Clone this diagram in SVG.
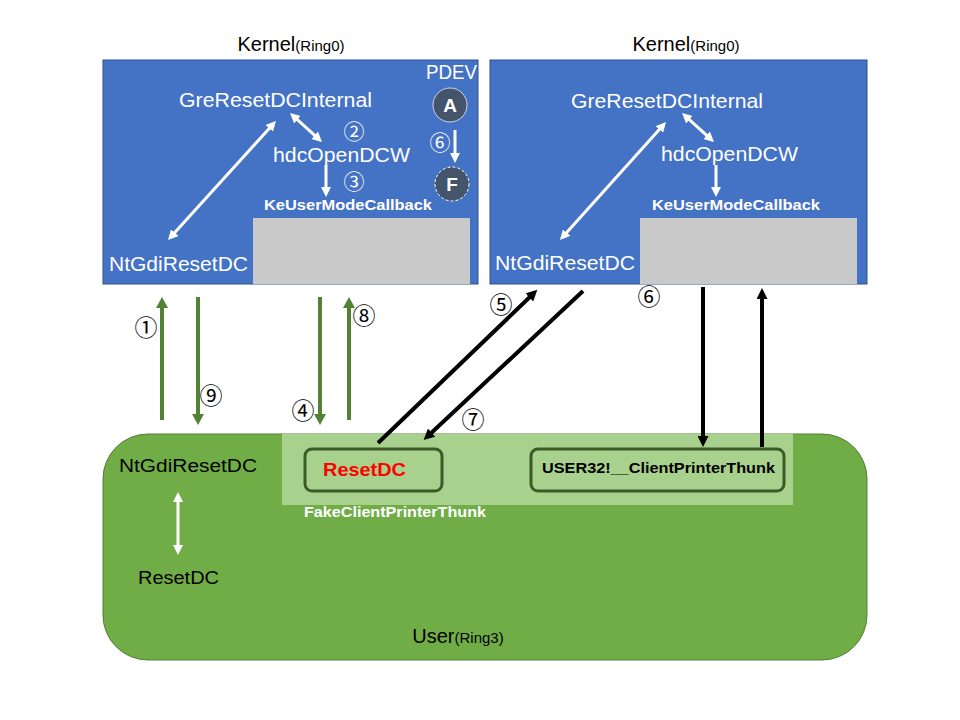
<svg xmlns="http://www.w3.org/2000/svg" width="960" height="720" viewBox="0 0 960 720">
<style>
text{font-family:"Liberation Sans","Noto Sans",sans-serif}
.wt{fill:#fff;font-size:20px}
.wb{fill:#fff;font-size:14px;font-weight:bold}
.bk{fill:#000;font-size:18px}
.num{font-family:"Noto Sans CJK JP","Noto Sans CJK SC",sans-serif;font-size:23px;fill:#000}
.numw{font-family:"Noto Sans CJK JP","Noto Sans CJK SC",sans-serif;font-size:21px;fill:#fff}
.kbox{fill:#4472C4;stroke:#2F528F;stroke-width:1}
.gray{fill:#C9C9C9}
.wl{stroke:#fff;stroke-width:3;fill:none}
.gl{stroke:#538135;stroke-width:4;fill:none}
.bl{stroke:#000;stroke-width:4;fill:none}
.inner{fill:#A9D18E;stroke:#3B5A26;stroke-width:3}
</style>
<defs>
<marker id="mw" viewBox="0 0 10 10" refX="5" refY="5" markerWidth="10" markerHeight="10" markerUnits="userSpaceOnUse" orient="auto-start-reverse"><path d="M0,0 L10,5 L0,10 z" fill="#fff"/></marker>
<marker id="mg" viewBox="0 0 11 12" refX="5" refY="6" markerWidth="11" markerHeight="12" markerUnits="userSpaceOnUse" orient="auto"><path d="M0,0 L11,6 L0,12 z" fill="#538135"/></marker>
<marker id="mb" viewBox="0 0 11 11" refX="5" refY="5.5" markerWidth="11" markerHeight="11" markerUnits="userSpaceOnUse" orient="auto"><path d="M0,0 L11,5.5 L0,11 z" fill="#000"/></marker>
</defs>
<rect width="960" height="720" fill="#fff"/>

<g id="user-ring3">
<rect x="103" y="434" width="764" height="226" rx="45" fill="#70AD47" stroke="#507E32" stroke-width="1"/>
<rect x="282" y="434" width="511" height="71" fill="#A9D18E"/>
<text x="119" y="472" class="bk" textLength="138" lengthAdjust="spacingAndGlyphs">NtGdiResetDC</text>
<text x="138" y="584" class="bk" textLength="81" lengthAdjust="spacingAndGlyphs">ResetDC</text>
<text x="304" y="517" class="wb" textLength="182" lengthAdjust="spacingAndGlyphs">FakeClientPrinterThunk</text>
<text x="458" y="643" text-anchor="middle" fill="#000"><tspan font-size="20">User</tspan><tspan font-size="15">(Ring3)</tspan></text>
</g>

<g id="fake-resetdc">
<rect x="305" y="449" width="137" height="42" rx="7" class="inner"/>
<text x="323" y="476" fill="#FF0000" font-size="19" font-weight="bold" textLength="83" lengthAdjust="spacingAndGlyphs">ResetDC</text>
</g>

<g id="user32-thunk">
<rect x="531" y="449" width="253" height="42" rx="7" class="inner"/>
<text x="542" y="473" fill="#000" font-size="15" font-weight="bold" textLength="233" lengthAdjust="spacingAndGlyphs">USER32!__ClientPrinterThunk</text>
</g>

<g id="kernel-left">
<text x="291" y="51" text-anchor="middle" fill="#000"><tspan font-size="20">Kernel</tspan><tspan font-size="15">(Ring0)</tspan></text>
<rect x="103" y="60" width="375" height="224" class="kbox"/>
<rect x="253" y="218" width="217" height="66" class="gray"/>
<text x="426" y="79" class="wt" font-size="17" textLength="51" lengthAdjust="spacingAndGlyphs">PDEV</text>
<text x="179" y="107" class="wt" textLength="193" lengthAdjust="spacingAndGlyphs">GreResetDCInternal</text>
<text x="273" y="162" class="wt" textLength="137" lengthAdjust="spacingAndGlyphs">hdcOpenDCW</text>
<text x="264" y="210" class="wb" textLength="168" lengthAdjust="spacingAndGlyphs">KeUserModeCallback</text>
<text x="109" y="271" class="wt" textLength="139" lengthAdjust="spacingAndGlyphs">NtGdiResetDC</text>
<text x="354" y="139" class="numw" text-anchor="middle">②</text>
<text x="354" y="189" class="numw" text-anchor="middle">③</text>
<text x="440" y="150" class="numw" text-anchor="middle">⑥</text>
</g>

<g id="circle-A">
<circle cx="450" cy="105" r="17" fill="#44546A" stroke="#D0D8E8" stroke-width="1"/>
<text x="450" y="112" fill="#fff" font-size="19" font-weight="bold" text-anchor="middle">A</text>
</g>
<g id="circle-F">
<circle cx="452" cy="184" r="17" fill="#44546A" stroke="#fff" stroke-width="1" stroke-dasharray="3,2"/>
<text x="452" y="191" fill="#fff" font-size="19" font-weight="bold" text-anchor="middle">F</text>
</g>

<g id="kernel-right">
<text x="686" y="51" text-anchor="middle" fill="#000"><tspan font-size="20">Kernel</tspan><tspan font-size="15">(Ring0)</tspan></text>
<rect x="490" y="60" width="377" height="224" class="kbox"/>
<rect x="640" y="218" width="217" height="66" class="gray"/>
<text x="571" y="108" class="wt" textLength="192" lengthAdjust="spacingAndGlyphs">GreResetDCInternal</text>
<text x="661" y="161" class="wt" textLength="137" lengthAdjust="spacingAndGlyphs">hdcOpenDCW</text>
<text x="652" y="210" class="wb" textLength="168" lengthAdjust="spacingAndGlyphs">KeUserModeCallback</text>
<text x="495" y="270" class="wt" textLength="140" lengthAdjust="spacingAndGlyphs">NtGdiResetDC</text>
</g>

<g id="connectors">
<line x1="171.4" y1="236.3" x2="272.6" y2="124.7" class="wl" marker-start="url(#mw)" marker-end="url(#mw)"/>
<line x1="293.7" y1="116.4" x2="318.3" y2="138.6" class="wl" marker-start="url(#mw)" marker-end="url(#mw)"/>
<line x1="326" y1="165" x2="326" y2="192" class="wl" marker-end="url(#mw)"/>
<line x1="455" y1="130" x2="455" y2="158" class="wl" marker-end="url(#mw)"/>
<line x1="563.3" y1="236.3" x2="662.7" y2="125.7" class="wl" marker-start="url(#mw)" marker-end="url(#mw)"/>
<line x1="685.7" y1="116.4" x2="710.3" y2="138.6" class="wl" marker-start="url(#mw)" marker-end="url(#mw)"/>
<line x1="716" y1="165" x2="716" y2="192" class="wl" marker-end="url(#mw)"/>
<line x1="178" y1="497" x2="178" y2="550" class="wl" marker-start="url(#mw)" marker-end="url(#mw)"/>

<line x1="162" y1="420" x2="162" y2="303" class="gl" marker-end="url(#mg)"/>
<line x1="198" y1="297" x2="198" y2="419" class="gl" marker-end="url(#mg)"/>
<line x1="320" y1="297" x2="320" y2="419" class="gl" marker-end="url(#mg)"/>
<line x1="349" y1="420" x2="349" y2="303" class="gl" marker-end="url(#mg)"/>

<line x1="378" y1="443" x2="533" y2="294" class="bl" marker-end="url(#mb)"/>
<line x1="583" y1="291" x2="428" y2="436" class="bl" marker-end="url(#mb)"/>
<line x1="703" y1="287" x2="703" y2="441" class="bl" marker-end="url(#mb)"/>
<line x1="762" y1="447" x2="762" y2="294" class="bl" marker-end="url(#mb)"/>

<text x="146" y="336" class="num" text-anchor="middle">①</text>
<text x="211" y="404" class="num" text-anchor="middle">⑨</text>
<text x="303" y="419" class="num" text-anchor="middle">④</text>
<text x="364" y="324" class="num" text-anchor="middle">⑧</text>
<text x="501" y="313" class="num" text-anchor="middle">⑤</text>
<text x="473" y="428" class="num" text-anchor="middle">⑦</text>
<text x="649" y="305" class="num" text-anchor="middle">⑥</text>
</g>
</svg>
